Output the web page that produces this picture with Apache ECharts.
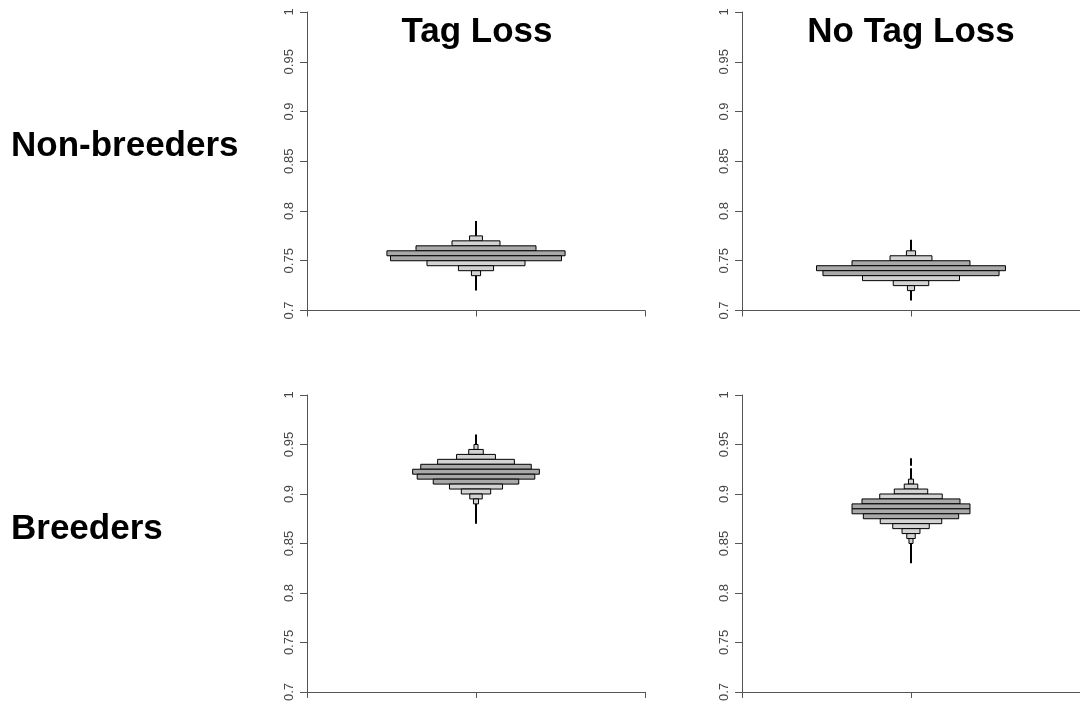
<!DOCTYPE html>
<html><head><meta charset="utf-8">
<script src="https://cdn.jsdelivr.net/npm/echarts@6/dist/echarts.min.js"></script>
<style>html,body{margin:0;padding:0;background:#fff}#c{width:1080px;height:704px}</style>
</head><body><div id="c"></div>
<script>
// Column / row labels
const colTitles = ["Tag Loss", "No Tag Loss"];
const rowTitles = ["Non-breeders", "Breeders"];
const yTicks = [0.7, 0.75, 0.8, 0.85, 0.9, 0.95, 1];
const binWidth = 0.005;

// Panel 1: Non-breeders, Tag Loss (bins listed from top to bottom by lower edge)
const nbTagLow   = [0.770, 0.765, 0.760, 0.755, 0.750, 0.745, 0.740, 0.735];
const nbTagHalf  = [0.038, 0.142, 0.355, 0.527, 0.506, 0.290, 0.104, 0.027];
const nbTagDark  = [0, 0, 1, 1, 1, 0, 0, 0];
const nbTagWhisk = [[0.775, 0.790], [0.720, 0.735]];

// Panel 2: Non-breeders, No Tag Loss
const nbNoLow   = [0.755, 0.750, 0.745, 0.740, 0.735, 0.730, 0.725, 0.720];
const nbNoHalf  = [0.027, 0.124, 0.349, 0.559, 0.521, 0.287, 0.105, 0.021];
const nbNoDark  = [0, 0, 1, 1, 1, 0, 0, 0];
const nbNoWhisk = [[0.760, 0.771], [0.710, 0.720]];

// Panel 3: Breeders, Tag Loss
const brTagLow   = [0.945, 0.940, 0.935, 0.930, 0.925, 0.920, 0.915, 0.910, 0.905, 0.900, 0.895, 0.890];
const brTagHalf  = [0.012, 0.043, 0.115, 0.227, 0.327, 0.375, 0.348, 0.253, 0.157, 0.087, 0.037, 0.015];
const brTagDark  = [0, 0, 0, 0, 1, 1, 1, 1, 0, 0, 0, 0];
const brTagWhisk = [[0.950, 0.960], [0.870, 0.890]];

// Panel 4: Breeders, No Tag Loss
const brNoLow   = [0.910, 0.905, 0.900, 0.895, 0.890, 0.885, 0.880, 0.875, 0.870, 0.865, 0.860, 0.855, 0.850];
const brNoHalf  = [0.015, 0.040, 0.099, 0.185, 0.290, 0.349, 0.349, 0.282, 0.182, 0.108, 0.053, 0.025, 0.012];
const brNoDark  = [0, 0, 0, 0, 1, 1, 1, 1, 0, 0, 0, 0, 0];
const brNoWhisk = [[0.915, 0.926], [0.9285, 0.936], [0.830, 0.850]];

const panels = [
  {low: nbTagLow, half: nbTagHalf, dark: nbTagDark, whisk: nbTagWhisk},
  {low: nbNoLow,  half: nbNoHalf,  dark: nbNoDark,  whisk: nbNoWhisk},
  {low: brTagLow, half: brTagHalf, dark: brTagDark, whisk: brTagWhisk},
  {low: brNoLow,  half: brNoHalf,  dark: brNoDark,  whisk: brNoWhisk}
];

const LIGHT = '#d3d3d3', DARK = '#a9a9a9';
const FONT = '"Liberation Sans", Arial, sans-serif';
const grids = [
  {left: 307, top: 12, width: 338, height: 298.5},
  {left: 742, top: 12, width: 338, height: 298.5},
  {left: 307, top: 395, width: 338, height: 297.5},
  {left: 742, top: 395, width: 338, height: 297.5}
];

const xAxes = [], yAxes = [], series = [];
panels.forEach((p, i) => {
  xAxes.push({
    gridIndex: i, type: 'value', min: -1, max: 1, interval: 1,
    axisLine: {show: true, onZero: false, lineStyle: {color: '#555', width: 1}},
    axisTick: {show: true, length: 6, lineStyle: {color: '#555'}},
    axisLabel: {show: false}, splitLine: {show: false}
  });
  yAxes.push({
    gridIndex: i, type: 'value', min: 0.7, max: 1, interval: 0.05,
    axisLine: {show: true, onZero: false, lineStyle: {color: '#555', width: 1}},
    axisTick: {show: true, length: 7, lineStyle: {color: '#555'}},
    axisLabel: {show: true, rotate: 90, margin: 11, color: '#444', fontSize: 13, fontFamily: FONT,
      formatter: v => String(+v.toFixed(2))},
    splitLine: {show: false}
  });
  const binData = p.low.map((lo, k) => [lo, lo + binWidth, p.half[k], p.dark[k]]);
  series.push({
    type: 'custom', xAxisIndex: i, yAxisIndex: i, data: binData,
    encode: {y: [0, 1], x: 2},
    renderItem: (params, api) => {
      const lo = api.value(0), hi = api.value(1), w = api.value(2), d = api.value(3);
      const a = api.coord([-w, hi]), b = api.coord([w, lo]);
      return {type: 'rect', shape: {x: a[0], y: a[1], width: b[0] - a[0], height: b[1] - a[1]},
        style: {fill: d ? DARK : LIGHT, stroke: '#000', lineWidth: 1}};
    },
    silent: true, z: 3
  });
  series.push({
    type: 'custom', xAxisIndex: i, yAxisIndex: i, data: p.whisk,
    encode: {y: [0, 1]},
    renderItem: (params, api) => {
      const a = api.coord([0, api.value(0)]), b = api.coord([0, api.value(1)]);
      return {type: 'line', shape: {x1: a[0], y1: a[1], x2: b[0], y2: b[1]},
        style: {stroke: '#000', lineWidth: 2}};
    },
    silent: true, z: 2
  });
});

const chart = echarts.init(document.getElementById('c'), null, {renderer: 'canvas'});
chart.setOption({
  backgroundColor: '#fff',
  animation: false,
  grid: grids,
  xAxis: xAxes, yAxis: yAxes, series: series,
  graphic: [
    {type: 'text', x: 477, y: 32, style: {text: colTitles[0], font: 'bold 35px ' + FONT, fill: '#000', align: 'center', verticalAlign: 'middle'}},
    {type: 'text', x: 911, y: 32, style: {text: colTitles[1], font: 'bold 35px ' + FONT, fill: '#000', align: 'center', verticalAlign: 'middle'}},
    {type: 'text', x: 11, y: 146, style: {text: rowTitles[0], font: 'bold 35px ' + FONT, fill: '#000', align: 'left', verticalAlign: 'middle'}},
    {type: 'text', x: 11, y: 529, style: {text: rowTitles[1], font: 'bold 35px ' + FONT, fill: '#000', align: 'left', verticalAlign: 'middle'}}
  ]
});
</script></body></html>
